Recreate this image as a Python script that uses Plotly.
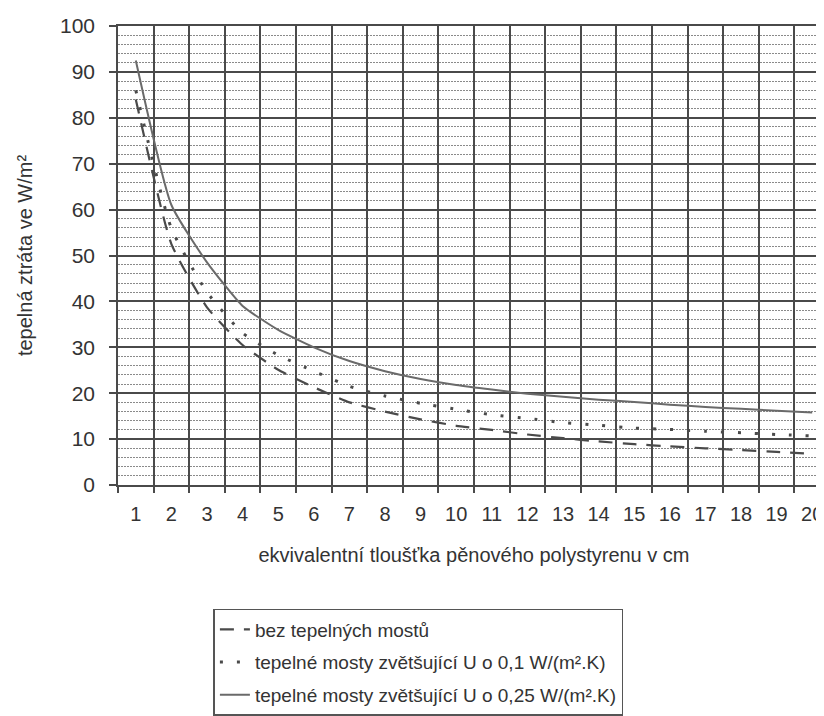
import plotly.graph_objects as go

thickness_cm = [str(i) for i in range(1, 21)]
no_bridges = [84, 52.5, 38.7, 30.5, 25.1, 21.3, 18.0, 16.0, 14.3, 12.9,
              12.0, 11.0, 10.2, 9.5, 8.9, 8.4, 8.0, 7.6, 7.2, 6.8]
bridges_01 = [86, 55.9, 42.0, 33.1, 28.3, 24.8, 21.5, 19.4, 17.8, 16.5,
              15.3, 14.5, 13.6, 13.0, 12.4, 12.1, 11.7, 11.4, 11.0, 10.7]
bridges_025 = [92.5, 61.0, 48.5, 39.0, 33.8, 30.0, 27.0, 24.8, 23.1, 21.8,
               20.8, 19.9, 19.2, 18.6, 18.1, 17.5, 17.0, 16.6, 16.2, 15.8]
series_names = ["bez tepelných mostů",
                "tepelné mosty zvětšující U o 0,1 W/(m².K)",
                "tepelné mosty zvětšující U o 0,25 W/(m².K)"]
y_title = "tepelná ztráta ve W/m²"
x_title = "ekvivalentní tloušťka pěnového polystyrenu v cm"

FONT = "Liberation Sans, Arial, sans-serif"

fig = go.Figure()
fig.add_trace(go.Scatter(x=thickness_cm, y=no_bridges, mode="lines", name=series_names[0],
                         legendgroup="a",
                         line=dict(color="#4a4a4a", width=2.2, dash="14px,10px",
                                   shape="spline", smoothing=0.5)))
fig.add_trace(go.Scatter(x=thickness_cm, y=bridges_01, mode="lines", name=series_names[1],
                         legendgroup="b",
                         line=dict(color="#4a4a4a", width=3, dash="3px,14px",
                                   shape="spline", smoothing=0.5)))
fig.add_trace(go.Scatter(x=thickness_cm, y=bridges_025, mode="lines", name=series_names[2],
                         legendgroup="c",
                         line=dict(color="#6a6a6a", width=2, shape="spline", smoothing=0.5)))

fig.update_layout(
    width=824, height=716,
    margin=dict(l=110, r=0, t=18, b=239),
    paper_bgcolor="white", plot_bgcolor="white",
    font=dict(family=FONT, size=20, color="#333"),
    showlegend=True,
    legend=dict(x=0.134, y=-0.27, xanchor="left", yanchor="top",
                bordercolor="#555", borderwidth=1.5, bgcolor="white",
                font=dict(size=19, color="#333"), itemwidth=30,
                traceorder="grouped", tracegroupgap=5),
)
fig.update_xaxes(
    type="category", range=[-0.5, 19.5], tickson="boundaries",
    showgrid=True, gridcolor="#4a4a4a", gridwidth=1.6,
    ticks="outside", ticklen=6, tickcolor="#4a4a4a", tickwidth=1.6,
    showline=True, linecolor="#4a4a4a", linewidth=1.6, mirror=True,
    tickfont=dict(size=20, color="#333"), ticklabelstandoff=10,
    title=dict(text=x_title, font=dict(size=20, color="#333"), standoff=24),
    zeroline=False,
)
fig.update_yaxes(
    range=[0, 100], dtick=10, tick0=0,
    showgrid=True, gridcolor="#4a4a4a", gridwidth=1.6,
    ticks="outside", ticklen=7, tickcolor="#4a4a4a", tickwidth=1.6,
    showline=True, linecolor="#4a4a4a", linewidth=1.6, mirror=True,
    tickfont=dict(size=21, color="#333"), ticklabelstandoff=10,
    minor=dict(dtick=2, showgrid=True, gridcolor="#8a8a8a", gridwidth=1.2, griddash="2px,1px", ticks=""),
    title=dict(text=y_title, font=dict(size=20, color="#333"), standoff=22),
    zeroline=False,
)

fig.write_html("out.html")
